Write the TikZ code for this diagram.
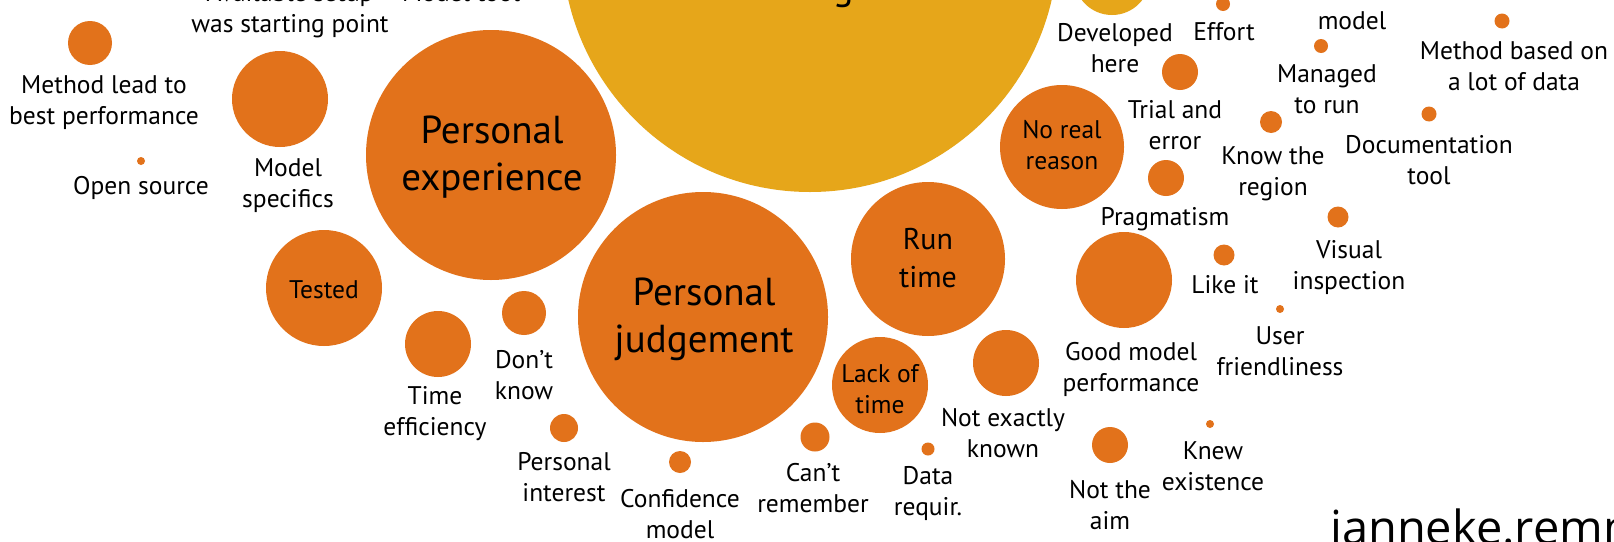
\documentclass[tikz,border=0pt]{standalone}
\usepackage{fontspec}
\setmainfont{PT Sans}
\newfontfamily\sigfont{Open Sans}
\definecolor{bubor}{RGB}{226,114,27}
\definecolor{bubye}{RGB}{230,166,26}
\tikzset{
  bub/.style={circle, fill=bubor, draw=none, inner sep=0pt, minimum size=#1},
  ybub/.style={circle, fill=bubye, draw=none, inner sep=0pt, minimum size=#1},
  lbl/.style={font=\fontsize{25.5}{31}\selectfont, align=center, anchor=base, inner sep=0pt},
  midlbl/.style={font=\fontsize{30}{38}\selectfont, align=center, anchor=base, inner sep=0pt},
  biglbl/.style={font=\fontsize{39}{47}\selectfont, align=center, anchor=base, inner sep=0pt},
  sig/.style={font=\sigfont\fontsize{47}{54}\selectfont, anchor=base west, inner sep=0pt}
}
\begin{document}
\begin{tikzpicture}[x=1pt,y=-1pt]
\useasboundingbox (0,0) rectangle (1614,541);
\clip (0,0) rectangle (1614,541);
\fill[white] (0,0) rectangle (1614,541);
% bubbles
\node[ybub=496] (yb) at (810,-56) {};
\node[ybub=76] (dev) at (1112,-23) {};
\node[bub=14] (eff) at (1223,4) {};
\node[bub=36] (tri) at (1180,72) {};
\node[bub=36] (pra) at (1166,178) {};
\node[bub=124] (nrr) at (1062,147) {};
\node[bub=154] (run) at (928,259) {};
\node[bub=14] (man) at (1321,46) {};
\node[bub=22] (kno) at (1271,122) {};
\node[bub=15] (doc) at (1429,114) {};
\node[bub=15] (mbd) at (1502,21) {};
\node[bub=21] (vis) at (1338,217) {};
\node[bub=21] (lik) at (1224,255) {};
\node[bub=96] (gmp) at (1124,280) {};
\node[bub=8] (usr) at (1280,309) {};
\node[bub=8] (knw) at (1210,424) {};
\node[bub=36] (nta) at (1110,445) {};
\node[bub=66] (nek) at (1006,363) {};
\node[bub=96] (lot) at (880,385) {};
\node[bub=13] (dat) at (928,449) {};
\node[bub=29] (cnr) at (815,437) {};
\node[bub=250] (pj) at (703,317) {};
\node[bub=22] (cfm) at (680,462) {};
\node[bub=28] (pin) at (564,428) {};
\node[bub=44] (dkn) at (524,313) {};
\node[bub=66] (tef) at (438,344) {};
\node[bub=116] (tst) at (324,288) {};
\node[bub=250] (pe) at (491,155) {};
\node[bub=96] (msp) at (280,99) {};
\node[bub=44] (mlb) at (90,43) {};
\node[bub=8] (ops) at (141,161) {};
% labels inside bubbles (anchor = baseline of last line)
\node[biglbl] (ybt) at (843,-1) {g};
\node[biglbl] (pet) at (492,190) {Personal\\experience};
\node[biglbl] (pjt) at (704,352) {Personal\\judgement};
\node[midlbl] (runt) at (928,287) {Run\\time};
\node[lbl] (nrrt) at (1062,169) {No real\\reason};
\node[lbl] (lott) at (880,413) {Lack of\\time};
\node[lbl] (tstt) at (324,298) {Tested};
% labels beside bubbles
\node[lbl] (mlbt) at (104,124) {Method lead to\\best performance};
\node[lbl] (opst) at (141,194) {Open source};
\node[lbl] (mspt) at (288,207) {Model\\specifics};
\node[lbl] (avst) at (290,32) {Available setup\\was starting point};
\node[lbl] (mtt) at (461,1) {Model tool};
\node[lbl] (teft) at (435,435) {Time\\efficiency};
\node[lbl] (dknt) at (524,399) {Don’t\\know};
\node[lbl] (pint) at (564,501) {Personal\\interest};
\node[lbl] (cfmt) at (680,538) {Confidence\\model};
\node[lbl] (cnrt) at (813,512) {Can’t\\remember};
\node[lbl] (datt) at (928,515) {Data\\requir.};
\node[lbl] (nekt) at (1003,457) {Not exactly\\known};
\node[lbl] (ntat) at (1110,529) {Not the\\aim};
\node[lbl] (knwt) at (1213,490) {Knew\\existence};
\node[lbl] (gmpt) at (1131,391) {Good model\\performance};
\node[lbl] (usrt) at (1280,375) {User\\friendliness};
\node[lbl] (likt) at (1225,293) {Like it};
\node[lbl] (vist) at (1349,289) {Visual\\inspection};
\node[lbl] (prat) at (1165,225) {Pragmatism};
\node[lbl] (trit) at (1175,149) {Trial and\\error};
\node[lbl] (devt) at (1115,72) {Developed\\here};
\node[lbl] (efft) at (1224,40) {Effort};
\node[lbl] (mdlt) at (1352,29) {model};
\node[lbl] (mant) at (1327,113) {Managed\\to run};
\node[lbl] (knot) at (1273,195) {Know the\\region};
\node[lbl] (doct) at (1429,184) {Documentation\\tool};
\node[lbl] (mbdt) at (1514,90) {Method based on\\a lot of data};
\node[sig] (sigt) at (1330,544) {janneke.remmers};
\end{tikzpicture}
\end{document}
